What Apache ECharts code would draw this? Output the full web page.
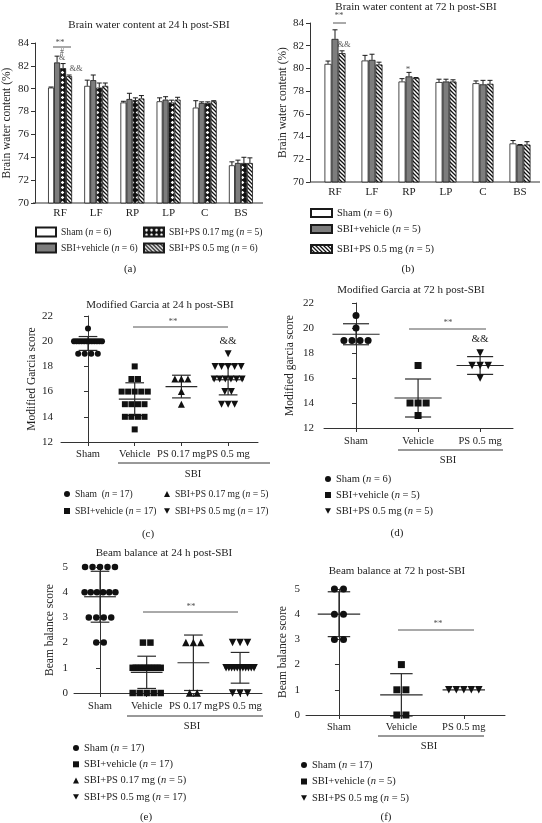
<!DOCTYPE html>
<html><head><meta charset="utf-8">
<script src="https://cdn.jsdelivr.net/npm/echarts@6/dist/echarts.min.js"></script>
<style>html,body{margin:0;padding:0;background:#fff}#c{width:542px;height:823px}</style>
</head><body><div id="c"></div>
<script>
// ---------------- DATA ----------------
const regions = ['RF', 'LF', 'RP', 'LP', 'C', 'BS'];
// (a) brain water content 24 h (mean, SD)
const a_sham = [80.1, 80.25, 78.8, 78.9, 78.35, 73.3];
const a_sham_sd = [0.05, 0.5, 0.1, 0.3, 0.6, 0.3];
const a_veh = [82.3, 80.75, 79.1, 79.05, 78.75, 73.5];
const a_veh_sd = [0.55, 0.45, 0.5, 0.25, 0.1, 0.25];
const a_ps017 = [81.8, 80.1, 79.0, 78.8, 78.75, 73.5];
const a_ps017_sd = [0.4, 0.4, 0.2, 0.2, 0.1, 0.5];
const a_ps05 = [81.1, 80.25, 79.15, 79.05, 78.9, 73.5];
const a_ps05_sd = [0.1, 0.25, 0.25, 0.2, 0.05, 0.45];
// (b) brain water content 72 h
const b_sham = [80.4, 80.7, 78.85, 78.8, 78.7, 73.4];
const b_sham_sd = [0.25, 0.45, 0.25, 0.25, 0.2, 0.25];
const b_veh = [82.6, 80.75, 79.3, 78.85, 78.6, 73.25];
const b_veh_sd = [0.8, 0.5, 0.35, 0.2, 0.35, 0.05];
const b_ps05 = [81.35, 80.35, 79.15, 78.85, 78.65, 73.3];
const b_ps05_sd = [0.2, 0.2, 0.05, 0.15, 0.3, 0.25];

// (c) modified Garcia 24 h
const groups4 = ['Sham', 'Vehicle', 'PS 0.17 mg', 'PS 0.5 mg'];
const c_sham = [21, 20, 20, 20, 20, 20, 20, 20, 20, 20, 20, 20, 20, 19, 19, 19, 19];
const c_veh = [18, 17, 17, 16, 16, 16, 16, 16, 15, 15, 15, 15, 14, 14, 14, 14, 13];
const c_ps017 = [17, 17, 17, 16, 15];
const c_ps05 = [19, 18, 18, 18, 18, 18, 17, 17, 17, 17, 17, 17, 16, 16, 15, 15, 15];
const c_mean = [19.82, 15.4, 16.4, 16.94];
const c_sd = [0.55, 1.3, 0.9, 1.2];

// (d) modified Garcia 72 h
const groups3 = ['Sham', 'Vehicle', 'PS 0.5 mg'];
const d_sham = [21, 20, 19, 19, 19, 19];
const d_veh = [17, 14, 14, 14, 13];
const d_ps05 = [18, 17, 17, 17, 16];
const d_mean = [19.5, 14.4, 17.0];
const d_sd = [0.84, 1.52, 0.71];

// (e) beam balance 24 h
const e_sham = [5, 5, 5, 5, 5, 4, 4, 4, 4, 4, 4, 3, 3, 3, 3, 2, 2];
const e_veh = [2, 2, 1, 1, 1, 1, 1, 1, 1, 1, 1, 1, 0, 0, 0, 0, 0];
const e_ps017 = [2, 2, 2, 0, 0];
const e_ps05 = [2, 2, 2, 1, 1, 1, 1, 1, 1, 1, 1, 1, 1, 1, 0, 0, 0];
const e_mean = [3.82, 0.82, 1.2, 1.0];
const e_sd = [1.01, 0.64, 1.1, 0.61];

// (f) beam balance 72 h
const f_sham = [5, 5, 4, 4, 3, 3];
const f_veh = [2, 1, 1, 0, 0];
const f_ps05 = [1, 1, 1, 1, 1];
const f_mean = [4.0, 0.8, 1.0];
const f_sd = [0.89, 0.84, 0];

const legendLabels = {
  a0: 'Sham ({i|n} = 6)', a1: 'SBI+vehicle ({i|n} = 6)', a2: 'SBI+PS 0.17 mg ({i|n} = 5)', a3: 'SBI+PS 0.5 mg ({i|n} = 6)',
  b0: 'Sham ({i|n} = 6)', b1: 'SBI+vehicle ({i|n} = 5)', b2: 'SBI+PS 0.5 mg ({i|n} = 5)',
  c0: 'Sham  ({i|n} = 17)', c1: 'SBI+vehicle ({i|n} = 17)', c2: 'SBI+PS 0.17 mg ({i|n} = 5)', c3: 'SBI+PS 0.5 mg ({i|n} = 17)',
  d0: 'Sham ({i|n} = 6)', d1: 'SBI+vehicle ({i|n} = 5)', d2: 'SBI+PS 0.5 mg ({i|n} = 5)',
  e0: 'Sham ({i|n} = 17)', e1: 'SBI+vehicle ({i|n} = 17)', e2: 'SBI+PS 0.17 mg ({i|n} = 5)', e3: 'SBI+PS 0.5 mg ({i|n} = 17)',
  f0: 'Sham ({i|n} = 17)', f1: 'SBI+vehicle ({i|n} = 5)', f2: 'SBI+PS 0.5 mg ({i|n} = 5)'
};

// ---------------- STYLE ----------------
const SERIF = "'Liberation Serif', 'Times New Roman', serif";
const TXT = '#222';
const AX = '#333';

function makeChecker() {
  const s = 5; const c = document.createElement('canvas'); c.width = s; c.height = s;
  const g = c.getContext('2d');
  g.fillStyle = '#111'; g.fillRect(0, 0, s, s);
  g.fillStyle = '#fff';
  g.beginPath(); g.moveTo(2.5, 0.7); g.lineTo(4.3, 2.5); g.lineTo(2.5, 4.3); g.lineTo(0.7, 2.5); g.closePath(); g.fill();
  return c;
}
function makeHatch() {
  const s = 4; const c = document.createElement('canvas'); c.width = s; c.height = s;
  const g = c.getContext('2d'); g.fillStyle = '#fff'; g.fillRect(0, 0, s, s);
  g.strokeStyle = '#111'; g.lineWidth = 1.3;
  g.beginPath();
  g.moveTo(-1, -1); g.lineTo(s + 1, s + 1);
  g.moveTo(-1, s - 1); g.lineTo(1, s + 1);
  g.moveTo(s - 1, -1); g.lineTo(s + 1, 1);
  g.stroke();
  return c;
}
const CHECK = { image: makeChecker(), repeat: 'repeat' };
const HATCH = { image: makeHatch(), repeat: 'repeat' };
const GRAY = '#7d7d7d';
const INV_TRI = 'path://M0,0L10,0L5,9Z';

const grids = [
  { left: 40, top: 43, width: 219, height: 160 },
  { left: 316.5, top: 23, width: 222, height: 159 },
  { left: 61, top: 316, width: 197, height: 126 },
  { left: 324, top: 303, width: 189, height: 125 },
  { left: 74, top: 567, width: 188, height: 126 },
  { left: 306, top: 589, width: 199, height: 126 }
];

function yAx(gi, min, max, interval, name, nameGap, margin, offset) {
  return {
    type: 'value', gridIndex: gi, min, max, interval, offset: offset || 0,
    name, nameLocation: 'middle', nameGap,
    nameTextStyle: { fontFamily: SERIF, fontSize: 11.5, color: TXT },
    axisLine: { show: true, lineStyle: { color: AX, width: 1 } },
    axisTick: { show: true, length: 4, lineStyle: { color: AX } },
    axisLabel: { fontFamily: SERIF, fontSize: 11, color: TXT, margin },
    splitLine: { show: false }
  };
}
function xCat(gi, margin) {
  return {
    type: 'category', gridIndex: gi, data: regions,
    axisLine: { show: false }, axisTick: { show: false },
    axisLabel: { fontFamily: SERIF, fontSize: 11, color: TXT, margin },
    splitLine: { show: false }
  };
}
function xGroups(gi, groups, min, max, margin) {
  const idx = groups.map((g, i) => i);
  return {
    type: 'value', gridIndex: gi, min, max,
    axisLine: { show: true, onZero: false, lineStyle: { color: AX, width: 1 } },
    axisTick: { show: true, length: 4, customValues: idx, lineStyle: { color: AX } },
    axisLabel: { fontFamily: SERIF, fontSize: 10.5, color: TXT, margin, customValues: idx,
      formatter: v => groups[Math.round(v)] },
    splitLine: { show: false }
  };
}

function barSeries(gi, key, vals, color) {
  return {
    type: 'bar', name: key, xAxisIndex: gi, yAxisIndex: gi, data: vals,
    barWidth: gi === 0 ? 6 : 7, barGap: '0%',
    itemStyle: { color, borderColor: '#1a1a1a', borderWidth: 0.8 },
    silent: true
  };
}
function barErr(gi, vals, sds, pos, n, bw) {
  return {
    type: 'custom', xAxisIndex: gi, yAxisIndex: gi, z: 5, silent: true,
    data: vals.map((v, i) => [i, v, sds[i]]),
    encode: { x: 0, y: 1 },
    renderItem(params, api) {
      const i = api.value(0), v = api.value(1), s = api.value(2);
      const off = (pos - (n - 1) / 2) * bw;
      const a = api.coord([i, v]), b = api.coord([i, v + s]);
      const x = a[0] + off;
      const st = { stroke: '#1a1a1a', lineWidth: 1 };
      return { type: 'group', children: [
        { type: 'line', shape: { x1: x, y1: a[1], x2: x, y2: b[1] }, style: st },
        { type: 'line', shape: { x1: x - 2.5, y1: b[1], x2: x + 2.5, y2: b[1] }, style: st }
      ] };
    }
  };
}

function swarm(values, xi, step, maxHalf) {
  const counts = {}; values.forEach(v => counts[v] = (counts[v] || 0) + 1);
  const seen = {}; const out = [];
  values.forEach(v => {
    const n = counts[v]; const k = seen[v] || 0; seen[v] = k + 1;
    let st = step; if (n > 1 && (n - 1) * st / 2 > maxHalf) st = 2 * maxHalf / (n - 1);
    out.push([xi + (k - (n - 1) / 2) * st, v]);
  });
  return out;
}
function scat(gi, key, values, xi, symbol, size, step, maxHalf) {
  return {
    type: 'scatter', name: key, xAxisIndex: gi, yAxisIndex: gi, z: 4, silent: true,
    symbol, symbolSize: size, itemStyle: { color: '#111', opacity: 1 },
    data: swarm(values, xi, step, maxHalf)
  };
}
function meanSd(gi, means, sds, meanHalf, capHalf) {
  return {
    type: 'custom', xAxisIndex: gi, yAxisIndex: gi, z: 3, silent: true,
    data: means.map((m, i) => [i, m, sds[i]]),
    encode: { x: 0, y: 1 },
    renderItem(params, api) {
      const x = api.value(0), m = api.value(1), s = api.value(2);
      const l = api.coord([x - meanHalf, m]), r = api.coord([x + meanHalf, m]);
      const t = api.coord([x, m + s]), b = api.coord([x, m - s]);
      const cl = api.coord([x - capHalf, m]), cr = api.coord([x + capHalf, m]);
      const st = { stroke: '#2a2a2a', lineWidth: 1.2 };
      const ch = [{ type: 'line', shape: { x1: l[0], y1: l[1], x2: r[0], y2: r[1] }, style: st }];
      if (s > 0) {
        ch.push({ type: 'line', shape: { x1: t[0], y1: t[1], x2: b[0], y2: b[1] }, style: st });
        ch.push({ type: 'line', shape: { x1: cl[0], y1: t[1], x2: cr[0], y2: t[1] }, style: st });
        ch.push({ type: 'line', shape: { x1: cl[0], y1: b[1], x2: cr[0], y2: b[1] }, style: st });
      }
      return { type: 'group', children: ch };
    }
  };
}

function legend(left, top, data, iw, ih, gap, fs) {
  const f = fs || 10.5;
  return {
    orient: 'vertical', left, top, itemWidth: iw, itemHeight: ih, itemGap: gap,
    selectedMode: false, padding: 0,
    data,
    formatter: name => legendLabels[name],
    textStyle: { fontFamily: SERIF, fontSize: f, color: TXT, lineHeight: 12,
      rich: { i: { fontFamily: SERIF, fontStyle: 'italic', fontSize: f, color: TXT } } }
  };
}

function T(x, y, text, size, color) {
  return { type: 'text', x, y, silent: true,
    style: { text, fill: color || TXT, font: (size || 11) + 'px ' + SERIF, align: 'center', verticalAlign: 'middle' } };
}
function L(x1, y1, x2, y2, color, w) {
  return { type: 'line', silent: true, shape: { x1, y1, x2, y2 }, style: { stroke: color || AX, lineWidth: w || 1 } };
}

const graphics = [
  // titles
  T(149, 25, 'Brain water content at 24 h post-SBI', 11),
  T(416, 7, 'Brain water content at 72 h post-SBI', 11),
  T(160, 305, 'Modified Garcia at 24 h post-SBI', 11),
  T(411, 290, 'Modified Garcia at 72 h post-SBI', 11),
  T(164, 553, 'Beam balance at 24 h post-SBI', 11),
  T(397, 571, 'Beam balance at 72 h post-SBI', 11),
  // panel letters
  T(130, 269, '(a)', 11), T(408, 269, '(b)', 11), T(148, 534, '(c)', 11),
  T(397, 533, '(d)', 11), T(146, 817, '(e)', 11), T(386, 817, '(f)', 11),
  // x axis lines of bar panels
  L(33, 203, 263, 203), L(310, 182, 540, 182),
  // SBI group brackets
  L(118, 463, 270, 463), T(193, 474, 'SBI', 10.5),
  L(398, 450, 503, 450), T(448, 460, 'SBI', 10.5),
  L(127, 716, 263, 716), T(192, 726, 'SBI', 10.5),
  L(378, 736, 484, 736), T(429, 746, 'SBI', 10.5),
  // significance annotations
  T(60, 43, '**', 9, '#555'), L(53, 47, 71, 47, '#555'),
  T(62, 52, '#', 8, '#555'), T(62, 58, '&', 8, '#555'), T(76, 69, '&&', 8.5, '#555'),
  T(339, 16, '**', 9, '#555'), L(333, 23, 346, 23, '#555'),
  T(344, 45, '&&', 8.5, '#555'), T(408, 70, '*', 9, '#555'),
  T(173, 322, '**', 9, '#555'), L(133, 327, 228, 327, '#555'), T(228, 341, '&&', 11),
  T(448, 323, '**', 9, '#555'), L(409, 329, 486, 329, '#555'), T(480, 339, '&&', 11),
  T(191, 607, '**', 9, '#555'), L(143, 612, 238, 612, '#555'),
  T(438, 624, '**', 9, '#555'), L(398, 630, 474, 630, '#555')
];

const option = {
  animation: false,
  backgroundColor: '#fff',
  grid: grids,
  xAxis: [
    xCat(0, 5), xCat(1, 5),
    xGroups(2, groups4, -0.578, 3.64, 7),
    xGroups(3, groups3, -0.516, 2.53, 8),
    xGroups(4, groups4, -0.557, 3.47, 8),
    xGroups(5, groups3, -0.528, 2.66, 7)
  ],
  yAxis: [
    yAx(0, 70, 84, 2, 'Brain water content (%)', 22, 6, 7),
    yAx(1, 70, 84, 2, 'Brain water content (%)', 21, 6, 6.5),
    yAx(2, 12, 22, 2, 'Modified Garcia score', 22, 8),
    yAx(3, 12, 22, 2, 'Modified garcia score', 28, 10),
    yAx(4, 0, 5, 1, 'Beam balance score', 18, 6),
    yAx(5, 0, 5, 1, 'Beam balance score', 17, 6)
  ],
  legend: [
    legend(35, 226, [{ name: 'a0', icon: 'rect' }, { name: 'a1', icon: 'rect' }], 20, 9, 4, 9.6),
    legend(143, 226, [{ name: 'a2', icon: 'rect' }, { name: 'a3', icon: 'rect' }], 20, 9, 4, 9.6),
    legend(310, 207, [{ name: 'b0', icon: 'rect' }, { name: 'b1', icon: 'rect' }], 21, 8, 4),
    legend(310, 243, [{ name: 'b2', icon: 'rect' }], 21, 8, 4),
    legend(64, 488, [{ name: 'c0', icon: 'circle' }, { name: 'c1', icon: 'rect' }], 6, 6, 5, 9.6),
    legend(164, 488, [{ name: 'c2', icon: 'triangle' }, { name: 'c3', icon: INV_TRI }], 6, 6, 5, 9.6),
    legend(325, 473, [{ name: 'd0', icon: 'circle' }, { name: 'd1', icon: 'rect' }, { name: 'd2', icon: INV_TRI }], 6, 6, 4),
    legend(73, 742, [{ name: 'e0', icon: 'circle' }, { name: 'e1', icon: 'rect' }, { name: 'e2', icon: 'triangle' }, { name: 'e3', icon: INV_TRI }], 6, 6, 4.3),
    legend(301, 759, [{ name: 'f0', icon: 'circle' }, { name: 'f1', icon: 'rect' }, { name: 'f2', icon: INV_TRI }], 6, 6, 4.5)
  ],
  series: [
    barSeries(0, 'a0', a_sham, '#fff'), barSeries(0, 'a1', a_veh, GRAY),
    barSeries(0, 'a2', a_ps017, CHECK), barSeries(0, 'a3', a_ps05, HATCH),
    barErr(0, a_sham, a_sham_sd, 0, 4, 6), barErr(0, a_veh, a_veh_sd, 1, 4, 6),
    barErr(0, a_ps017, a_ps017_sd, 2, 4, 6), barErr(0, a_ps05, a_ps05_sd, 3, 4, 6),

    barSeries(1, 'b0', b_sham, '#fff'), barSeries(1, 'b1', b_veh, GRAY), barSeries(1, 'b2', b_ps05, HATCH),
    barErr(1, b_sham, b_sham_sd, 0, 3, 7), barErr(1, b_veh, b_veh_sd, 1, 3, 7), barErr(1, b_ps05, b_ps05_sd, 2, 3, 7),

    meanSd(2, c_mean, c_sd, 0.34, 0.2),
    scat(2, 'c0', c_sham, 0, 'circle', 6, 0.14, 0.3),
    scat(2, 'c1', c_veh, 1, 'rect', 6, 0.14, 0.3),
    scat(2, 'c2', c_ps017, 2, 'triangle', 7, 0.14, 0.3),
    scat(2, 'c3', c_ps05, 3, INV_TRI, 7, 0.14, 0.3),

    meanSd(3, d_mean, d_sd, 0.38, 0.21),
    scat(3, 'd0', d_sham, 0, 'circle', 7, 0.13, 0.3),
    scat(3, 'd1', d_veh, 1, 'rect', 7, 0.13, 0.3),
    scat(3, 'd2', d_ps05, 2, INV_TRI, 7.5, 0.13, 0.3),

    meanSd(4, e_mean, e_sd, 0.34, 0.2),
    scat(4, 'e0', e_sham, 0, 'circle', 6.5, 0.16, 0.33),
    scat(4, 'e1', e_veh, 1, 'rect', 6.5, 0.16, 0.3),
    scat(4, 'e2', e_ps017, 2, 'triangle', 7.5, 0.16, 0.3),
    scat(4, 'e3', e_ps05, 3, INV_TRI, 7.5, 0.16, 0.3),

    meanSd(5, f_mean, f_sd, 0.34, 0.18),
    scat(5, 'f0', f_sham, 0, 'circle', 7, 0.145, 0.3),
    scat(5, 'f1', f_veh, 1, 'rect', 7, 0.145, 0.3),
    scat(5, 'f2', f_ps05, 2, INV_TRI, 7.5, 0.12, 0.3)
  ],
  graphic: graphics
};

const chart = echarts.init(document.getElementById('c'), null, { renderer: 'canvas' });
chart.setOption(option);
</script></body></html>
